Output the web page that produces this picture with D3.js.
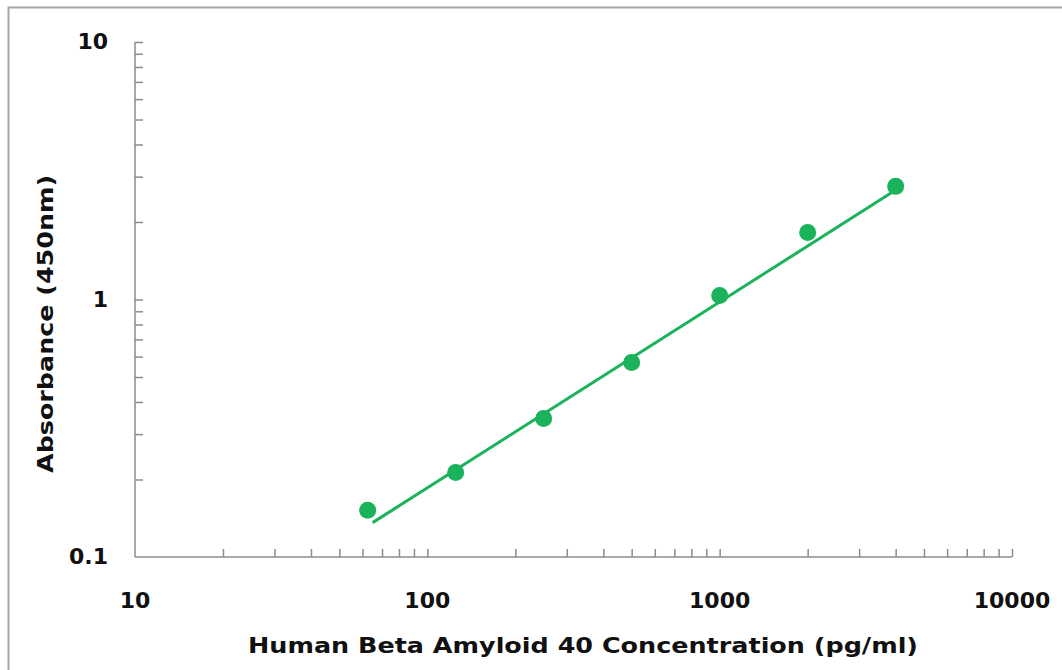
<!DOCTYPE html>
<html>
<head>
<meta charset="utf-8">
<script src="https://cdn.jsdelivr.net/npm/d3@7"></script>
<style>
  body { margin: 0; background: #fff; }
  text { font-family: "DejaVu Sans", Arial, sans-serif; font-weight: bold; fill: #111; }
</style>
</head>
<body>
<div class="chart"></div>
<script>
// standard curve points
var concentration = [62.5, 125, 250, 500, 1000, 2000, 4000];
var absorbance = [0.152, 0.213, 0.345, 0.569, 1.036, 1.82, 2.75];
// fitted line at both ends
var fitConc = [65, 4000];
var fitAbs = [0.136, 2.66];

var xTicks = [10, 100, 1000, 10000];
var yTicks = [0.1, 1, 10];

var svgWidth = 1062;
var svgHeight = 670;

var svg = d3.select(".chart")
  .append("svg")
  .attr("width", svgWidth)
  .attr("height", svgHeight);

// outer frame
svg.append("rect")
  .attr("x", 8.5)
  .attr("y", 7.5)
  .attr("width", 1070)
  .attr("height", 680)
  .attr("fill", "none")
  .attr("stroke", "#a6a6a6")
  .attr("stroke-width", 2);

var xScale = d3.scaleLog().domain([10, 10000]).range([135, 1012]);
var yScale = d3.scaleLog().domain([0.1, 10]).range([557, 42]);

// minor ticks for log axes
var xMinor = [];
var yMinor = [];
[10, 100, 1000].forEach(function(d) {
  for (var i = 2; i <= 10; i++) xMinor.push(d * i);
});
[0.1, 1].forEach(function(d) {
  for (var i = 2; i <= 10; i++) yMinor.push(d * i);
});

var axisColor = "#8c8c8c";

// x axis
var xAxis = svg.append("g")
  .attr("transform", "translate(0,557)")
  .call(d3.axisTop(xScale).tickValues(xMinor).tickSize(8).tickFormat(""));
xAxis.select(".domain").attr("d", "M135,0H1012");
xAxis.selectAll("line, path").attr("stroke", axisColor).attr("stroke-width", 1.5);

svg.selectAll(".xlab")
  .data(xTicks)
  .enter()
  .append("text")
  .attr("class", "xlab")
  .attr("x", d => xScale(d))
  .attr("y", 608)
  .attr("text-anchor", "middle")
  .style("font-size", "22px")
  .text(d => d);

// y axis
var yAxis = svg.append("g")
  .attr("transform", "translate(135,0)")
  .call(d3.axisRight(yScale).tickValues(yMinor).tickSize(8).tickFormat(""));
yAxis.select(".domain").attr("d", "M0,42V557");
yAxis.selectAll("line, path").attr("stroke", axisColor).attr("stroke-width", 1.5);

svg.selectAll(".ylab")
  .data(yTicks)
  .enter()
  .append("text")
  .attr("class", "ylab")
  .attr("x", 108)
  .attr("y", d => yScale(d) + 7)
  .attr("text-anchor", "end")
  .style("font-size", "22px")
  .text(d => d);

// fit line
var fitData = fitConc.map((c, i) => [c, fitAbs[i]]);
svg.append("path")
  .datum(fitData)
  .attr("fill", "none")
  .attr("stroke", "#1ab25a")
  .attr("stroke-width", 3)
  .attr("d", d3.line().x(d => xScale(d[0])).y(d => yScale(d[1])));

// points
svg.selectAll("circle")
  .data(concentration)
  .enter()
  .append("circle")
  .attr("cx", d => xScale(d))
  .attr("cy", (d, i) => yScale(absorbance[i]))
  .attr("r", 8.5)
  .attr("fill", "#1ab25a");

// axis titles
svg.append("text")
  .attr("x", 583)
  .attr("y", 653)
  .attr("text-anchor", "middle")
  .attr("textLength", 670)
  .attr("lengthAdjust", "spacingAndGlyphs")
  .style("font-size", "22px")
  .text("Human Beta Amyloid 40 Concentration (pg/ml)");

svg.append("text")
  .attr("transform", "translate(53,324) rotate(-90)")
  .attr("text-anchor", "middle")
  .attr("textLength", 298)
  .attr("lengthAdjust", "spacingAndGlyphs")
  .style("font-size", "22px")
  .text("Absorbance (450nm)");
</script>
</body>
</html>
